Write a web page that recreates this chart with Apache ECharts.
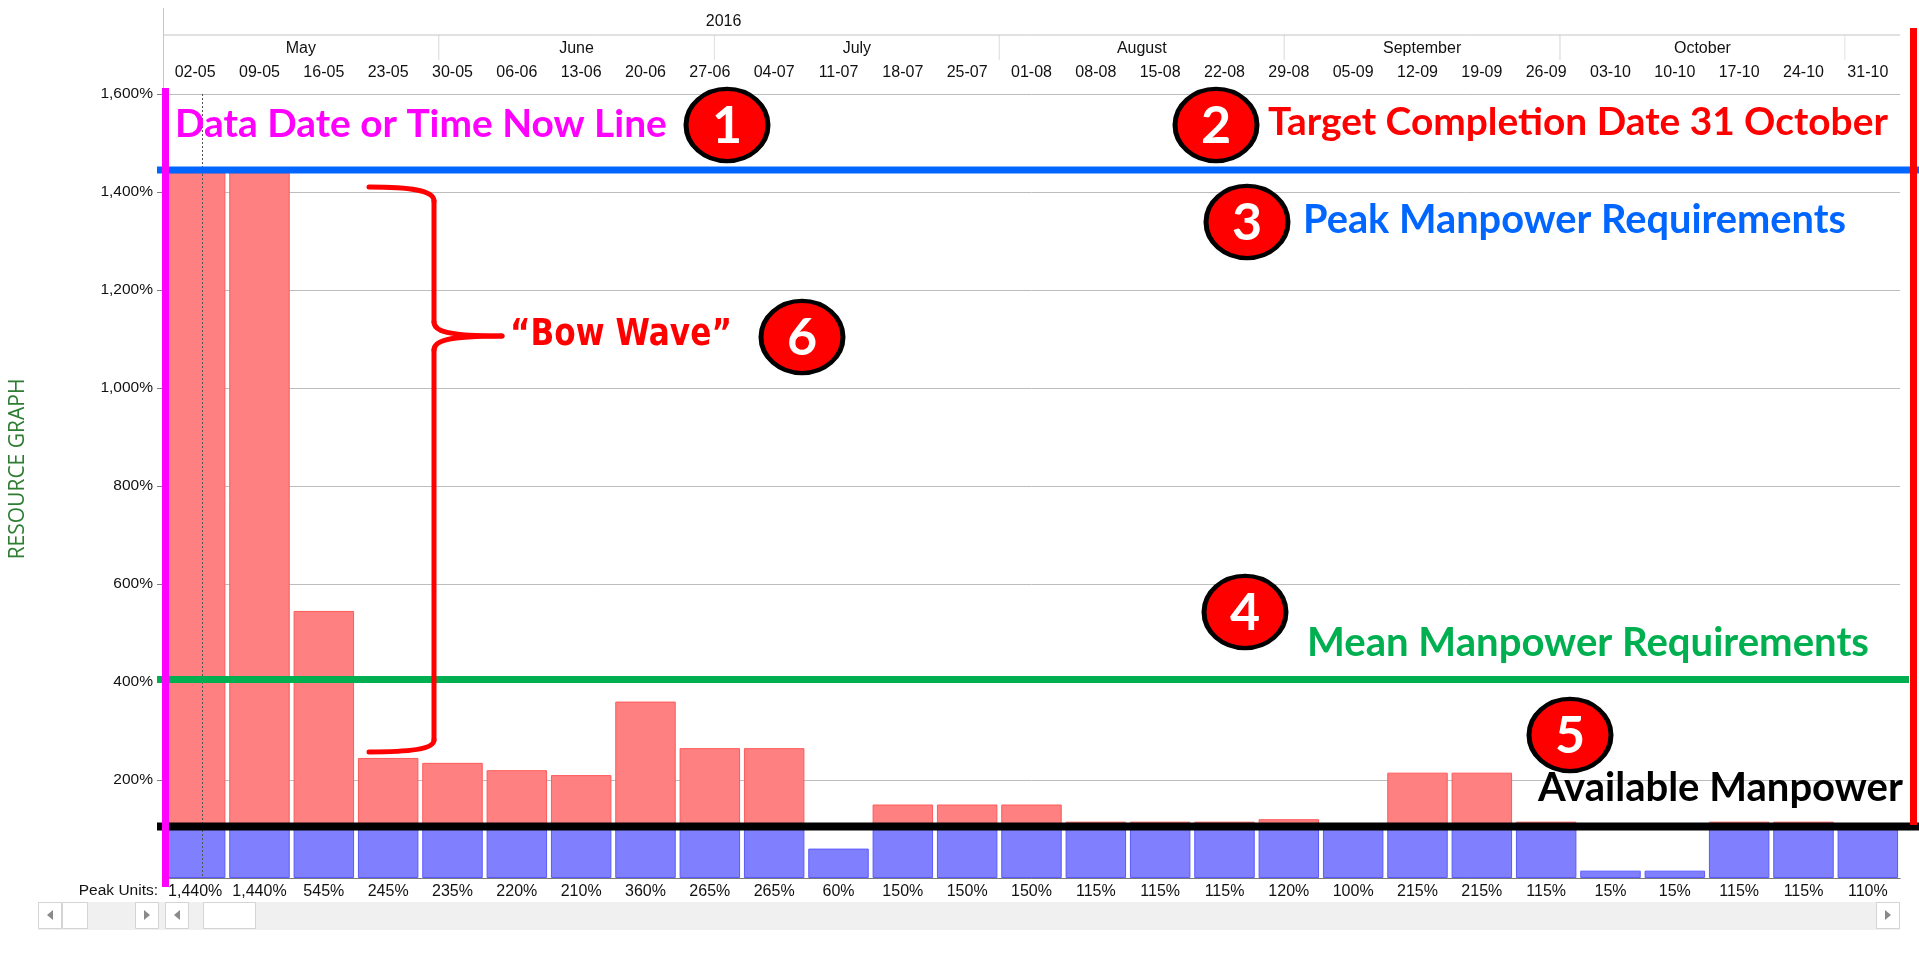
<!DOCTYPE html>
<html>
<head>
<meta charset="utf-8">
<script src="https://cdn.jsdelivr.net/npm/echarts@6/dist/echarts.min.js"></script>
<style>
  html, body { margin: 0; padding: 0; background: #fff; }
  #chart { width: 1919px; height: 956px; }
</style>
</head>
<body>
<div id="chart"></div>
<script>
// week starts (category axis)
const weeks = ['02-05', '09-05', '16-05', '23-05', '30-05', '06-06', '13-06', '20-06', '27-06',
  '04-07', '11-07', '18-07', '25-07', '01-08', '08-08', '15-08', '22-08', '29-08',
  '05-09', '12-09', '19-09', '26-09', '03-10', '10-10', '17-10', '24-10', '31-10']
// peak units per week, %
const peakUnits = [1440, 1440, 545, 245, 235, 220, 210, 360, 265, 265, 60, 150, 150, 150,
  115, 115, 115, 120, 100, 215, 215, 115, 15, 15, 115, 115, 110]
const availableLevel = 100

// timescale header
const yearLabels = ['2016']
const yearBounds = ['2016-01-01', '2017-01-01']
const monthNames = ['May', 'June', 'July', 'August', 'September', 'October']
const monthStarts = ['2016-05-01', '2016-06-01', '2016-07-01', '2016-08-01', '2016-09-01', '2016-10-01', '2016-11-01']
const firstWeek = '2016-05-02'
const lastWeekEnd = '2016-11-07'
const dataDate = '2016-05-06T06:00:00Z'

// hand drawn reference levels, %
const peakLevel = 1445
const meanLevel = 405
const availLevel = 105

const FONT = "'Liberation Sans', Arial, sans-serif"
const ts = s => Date.parse(s.length === 10 ? s + 'T00:00:00Z' : s)
const pct = v => v.toLocaleString('en-US') + '%'

const withinData = peakUnits.map(v => Math.min(v, availableLevel))
const overData = peakUnits.map(v => v > availableLevel ? v - availableLevel : '-')

let chart = echarts.init(document.getElementById('chart'))

let option = {
  animation: false,
  grid: {left: 163, right: 19, top: 94, bottom: 78},
  xAxis: [{
    type: 'category',
    data: weeks,
    position: 'top',
    offset: 6,
    axisLine: {lineStyle: {color: '#c4c4c4'}},
    axisTick: {length: 25, lineStyle: {color: '#e2e2e2'}},
    axisLabel: {margin: 7, interval: 0, color: '#111', fontSize: 16, fontFamily: FONT},
    splitLine: {show: false}
  }, {
    type: 'time',
    min: ts(firstWeek),
    max: ts(lastWeekEnd),
    position: 'top',
    show: false
  }, {
    type: 'category',
    data: weeks,
    position: 'bottom',
    axisLine: {lineStyle: {color: '#7a7a7a'}},
    axisTick: {length: 24, lineStyle: {color: '#7a7a7a'}},
    axisLabel: {
      margin: 6, interval: 0, color: '#111', fontSize: 16, fontFamily: FONT,
      formatter: (value, index) => pct(peakUnits[index])
    }
  }],
  yAxis: {
    type: 'value',
    min: 0,
    max: 1600,
    interval: 200,
    axisLine: {show: true, lineStyle: {color: '#a0a0a0'}},
    axisTick: {show: true, length: 6, lineStyle: {color: '#808080'}},
    axisLabel: {showMinLabel: false, margin: 10, color: '#111', fontSize: 15.5, fontFamily: FONT, formatter: v => pct(v)},
    splitLine: {lineStyle: {color: '#bdbdbd'}}
  },
  series: [{
    name: 'Within availability',
    type: 'bar',
    xAxisIndex: 0,
    stack: 'load',
    data: withinData,
    barCategoryGap: '6%',
    itemStyle: {color: '#8080ff', borderColor: '#5a5aff', borderWidth: 1}
  }, {
    name: 'Overallocated',
    type: 'bar',
    xAxisIndex: 0,
    stack: 'load',
    data: overData,
    barCategoryGap: '6%',
    itemStyle: {color: '#ff8080', borderColor: '#ff5a5a', borderWidth: 1}
  }, {
    // month tier of the timescale
    type: 'custom',
    xAxisIndex: 1,
    silent: true,
    clip: false,
    encode: {x: [0, 1]},
    data: monthNames.map((n, i) => [ts(monthStarts[i]), ts(monthStarts[i + 1])]),
    renderItem: (params, api) => {
      let cs = params.coordSys
      let sx = api.coord([api.value(0), 0])[0]
      let ex = api.coord([api.value(1), 0])[0]
      let x0 = Math.max(sx, cs.x)
      let x1 = Math.min(ex, cs.x + cs.width)
      let children = [{
        type: 'text',
        style: {
          text: monthNames[params.dataIndex], x: (x0 + x1) / 2, y: cs.y - 45,
          align: 'center', verticalAlign: 'middle', fill: '#111', fontSize: 16, fontFamily: FONT
        }
      }]
      if (sx >= cs.x) {
        children.push({type: 'line', shape: {x1: sx, y1: cs.y - 59, x2: sx, y2: cs.y - 34}, style: {stroke: '#e2e2e2', lineWidth: 1}})
      }
      if (ex <= cs.x + cs.width) {
        children.push({type: 'line', shape: {x1: ex, y1: cs.y - 59, x2: ex, y2: cs.y - 34}, style: {stroke: '#e2e2e2', lineWidth: 1}})
      }
      return {type: 'group', children: children}
    }
  }, {
    // year tier of the timescale
    type: 'custom',
    xAxisIndex: 1,
    silent: true,
    clip: false,
    encode: {x: [0, 1]},
    data: yearLabels.map((n, i) => [ts(yearBounds[i]), ts(yearBounds[i + 1])]),
    renderItem: (params, api) => {
      let cs = params.coordSys
      let mid = api.coord([(api.value(0) + api.value(1)) / 2, 0])[0]
      return {
        type: 'group',
        children: [{
          type: 'text',
          style: {
            text: yearLabels[params.dataIndex], x: mid, y: cs.y - 72,
            align: 'center', verticalAlign: 'middle', fill: '#111', fontSize: 16, fontFamily: FONT
          }
        }, {
          type: 'line',
          shape: {x1: cs.x, y1: cs.y - 59, x2: cs.x + cs.width, y2: cs.y - 59},
          style: {stroke: '#c4c4c4', lineWidth: 1}
        }]
      }
    }
  }]
}
chart.setOption(option)

// annotations
const measureCtx = document.createElement('canvas').getContext('2d')
function fitSize(text, family, width) {
  measureCtx.font = 'bold 100px ' + family
  return 100 * width / measureCtx.measureText(text).width
}
function note(text, x, y, width, color, family, stretch) {
  family = family || 'Lato'
  return {
    type: 'text', z: 60,
    x: x, y: y, scaleY: stretch || 1,
    style: {
      text: text, x: 0, y: 0, align: 'left', verticalAlign: 'middle', fill: color,
      fontSize: fitSize(text, family, width), fontWeight: 'bold', fontFamily: family
    }
  }
}
function badge(num, cx, cy) {
  return {
    type: 'group', z: 70,
    children: [{
      // ellipse: a circle squashed vertically
      type: 'circle', z: 70,
      x: cx, y: cy, scaleY: 0.88,
      shape: {cx: 0, cy: 0, r: 41},
      style: {fill: '#ff0000', stroke: '#000', lineWidth: 5}
    }, {
      type: 'text', z: 71,
      style: {
        text: String(num), x: cx, y: cy + 1, align: 'center', verticalAlign: 'middle',
        fill: '#fff', fontSize: 52, fontWeight: 'bold', fontFamily: 'Lato'
      }
    }]
  }
}
function hline(y, x1, x2, color, w) {
  return {type: 'line', z: 50, shape: {x1: x1, y1: y, x2: x2, y2: y}, style: {stroke: color, lineWidth: w}}
}
function arrowBtn(x, y, dir) {
  let cx = x + 12, cy = y + 13
  let pts = dir < 0 ? [[cx + 3, cy - 5], [cx + 3, cy + 5], [cx - 3, cy]] : [[cx - 3, cy - 5], [cx - 3, cy + 5], [cx + 3, cy]]
  return {
    type: 'group', z: 30,
    children: [
      {type: 'rect', z: 30, shape: {x: x + 0.5, y: y + 0.5, width: 23, height: 26}, style: {fill: '#fff', stroke: '#d4d4d4'}},
      {type: 'polygon', z: 31, shape: {points: pts}, style: {fill: '#8a8a8a'}}
    ]
  }
}
const braceStyle = {stroke: '#ff0000', lineWidth: 5, lineCap: 'round', fill: null}
function curve(x1, y1, cpx1, cpy1, cpx2, cpy2, x2, y2) {
  return {type: 'bezierCurve', z: 56, shape: {x1: x1, y1: y1, cpx1: cpx1, cpy1: cpy1, cpx2: cpx2, cpy2: cpy2, x2: x2, y2: y2}, style: braceStyle}
}
function seg(x1, y1, x2, y2) {
  return {type: 'line', z: 56, shape: {x1: x1, y1: y1, x2: x2, y2: y2}, style: braceStyle}
}

let yPix = v => chart.convertToPixel({yAxisIndex: 0}, v)
let xTime = t => chart.convertToPixel({xAxisIndex: 1}, ts(t))
let gTop = 94, gBottom = 878, gLeft = 163, gRight = 1900
let ddx = Math.round(xTime(dataDate)) + 0.5

chart.setOption({
  graphic: [
    // header frame and table chrome
    {type: 'line', z: 20, shape: {x1: gLeft + 0.5, y1: 8, x2: gLeft + 0.5, y2: gTop}, style: {stroke: '#c8c8c8', lineWidth: 1}},
    {type: 'text', z: 20, style: {text: 'Peak Units:', x: 158, y: 891, align: 'right', verticalAlign: 'middle', fill: '#111', fontSize: 15.5, fontFamily: FONT}},
    {type: 'rect', z: 20, shape: {x: 38, y: 902, width: gRight - 38, height: 28}, style: {fill: '#f0f0f0'}},
    {type: 'rect', z: 30, shape: {x: 62.5, y: 902.5, width: 25, height: 26}, style: {fill: '#fff', stroke: '#d4d4d4'}},
    {type: 'rect', z: 30, shape: {x: 203.5, y: 902.5, width: 52, height: 26}, style: {fill: '#fff', stroke: '#d4d4d4'}},
    arrowBtn(38, 902, -1),
    arrowBtn(135, 902, 1),
    arrowBtn(165, 902, -1),
    arrowBtn(1876, 902, 1),
    {type: 'text', z: 20, rotation: Math.PI / 2, x: 18, y: 469,
      style: {text: 'RESOURCE GRAPH', x: 0, y: 0, align: 'center', verticalAlign: 'middle', fill: '#2e7d32', fontSize: 21, fontFamily: "'Open Sans', sans-serif"}},
    // data date (dotted)
    {type: 'line', z: 40, shape: {x1: ddx, y1: gTop, x2: ddx, y2: gBottom}, style: {stroke: '#555', lineWidth: 1, lineDash: [2, 2]}},
    // hand drawn reference lines
    hline(yPix(peakLevel), 157, 1919, '#0066ff', 7),
    hline(yPix(meanLevel), 157, 1909, '#00b050', 7),
    hline(yPix(availLevel), 157, 1919, '#000000', 8),
    {type: 'rect', z: 55, shape: {x: 162, y: 88, width: 7, height: 799}, style: {fill: '#ff00ff'}},
    {type: 'rect', z: 55, shape: {x: 1910, y: 28, width: 7, height: 797}, style: {fill: '#ff0000'}},
    // bow wave brace
    curve(369, 187, 410, 187, 434, 190, 434, 201),
    seg(434, 201, 434, 322),
    curve(434, 322, 434, 331, 446, 336, 502, 336),
    curve(502, 336, 446, 336, 434, 341, 434, 350),
    seg(434, 350, 434, 740),
    curve(434, 740, 434, 749, 410, 752, 369, 752),
    note('Data Date or Time Now Line', 175, 124, 492, '#ff00ff'),
    note('Target Completion Date 31 October', 1268, 122, 620, '#ff0000'),
    note('Peak Manpower Requirements', 1303, 220, 543, '#0066ff'),
    note('Mean Manpower Requirements', 1307, 643, 562, '#00b050'),
    note('Available Manpower', 1538, 788, 365, '#000000'),
    note('\u201cBow Wave\u201d', 510, 335, 222, '#ff0000', "'DejaVu Sans'", 1.2),
    badge(1, 727, 125),
    badge(2, 1216, 125),
    badge(3, 1247, 222),
    badge(4, 1245, 612),
    badge(5, 1570, 735),
    badge(6, 802, 337)
  ]
})
</script>
</body>
</html>
